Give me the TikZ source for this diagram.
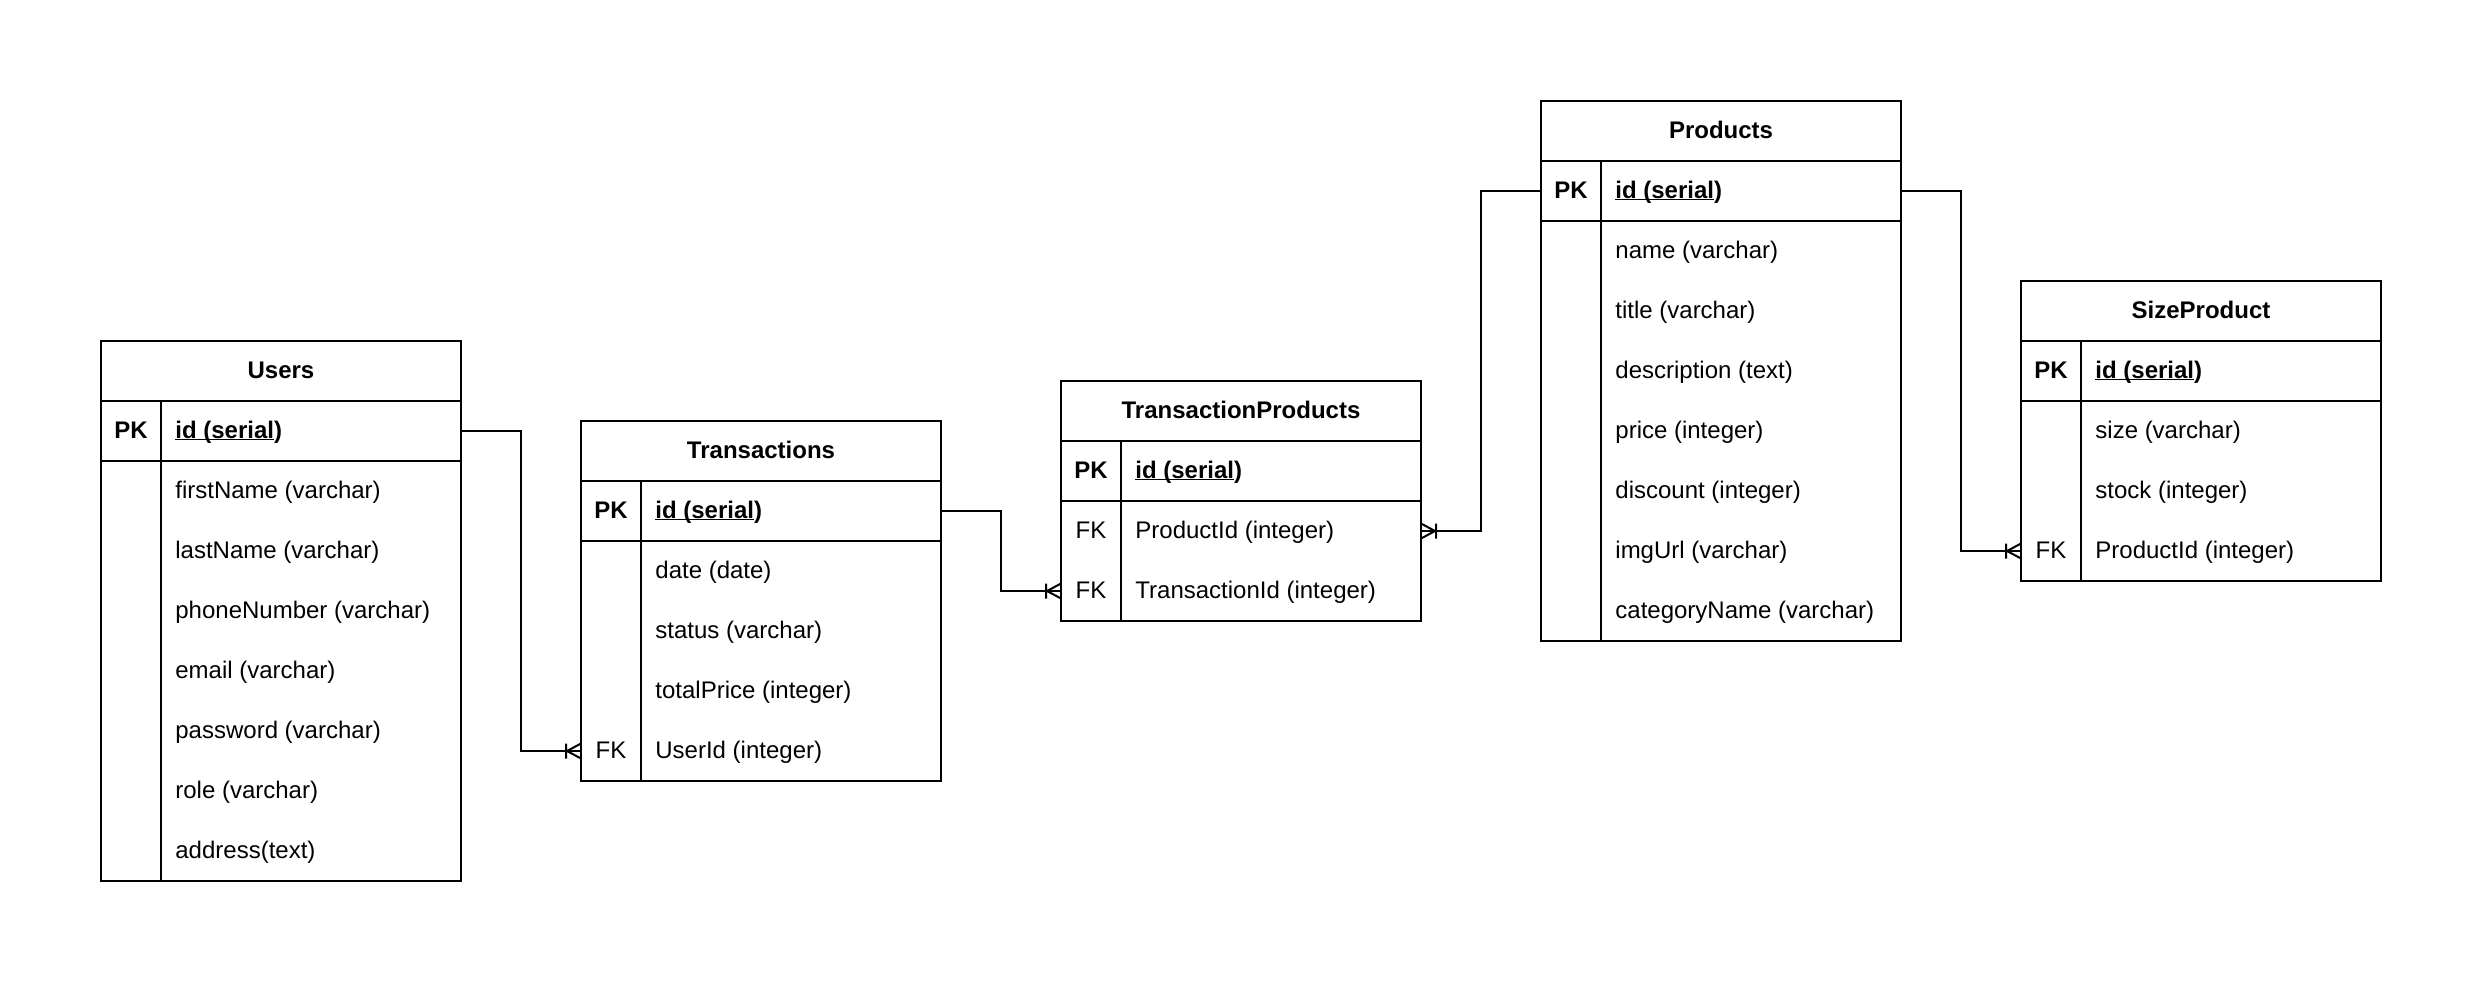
\documentclass[tikz,border=0pt]{standalone}
\usepackage{fontspec}
\setmainfont{Liberation Sans}
\usetikzlibrary{calc}
\newcommand\myul[1]{\setbox0\hbox{#1}\rlap{\rule[-1.1pt]{\wd0}{0.8pt}}\box0}
\newcommand\basefont{\fontsize{12pt}{14pt}\selectfont}
\tikzset{
  box/.style={draw, line width=1pt, rectangle, inner sep=0pt, outer sep=0pt},
  ttl/.style={font={\basefont\bfseries}, inner sep=0pt},
  fld/.style={font=\basefont, inner sep=0pt},
  rel/.style={draw, line width=1pt},
}
\newcommand\ertable[5]{%
  \node[box, anchor=north west, minimum width=180pt, minimum height=30pt] (#1) at (#2,#3) {};
  \node[ttl, anchor=base] (#1-title) at ([yshift=-3.6pt]#1.center) {#4};
  \node[box, anchor=north west, minimum width=180pt, minimum height=30pt] (#1-pk) at (#1.south west) {};
  \node[box, anchor=north west, minimum width=180pt, minimum height={#5*30pt}] (#1-b) at (#1-pk.south west) {};
  \draw[line width=1pt] ([xshift=30pt]#1-pk.north west) -- ([xshift=30pt]#1-b.south west);
  \node[ttl, anchor=base] (#1-pkkey) at ([xshift=15pt,yshift=-3.6pt]#1-pk.west) {PK};
  \node[ttl, anchor=base west] (#1-pkname) at ([xshift=37pt,yshift=-3.6pt]#1-pk.west) {\myul{id (serial})};
}
\newcommand\field[3]{%
  \coordinate (#1-r#2w) at ([yshift={-(#2-0.5)*30pt}]#1-b.north west);
  \coordinate (#1-r#2e) at ([yshift={-(#2-0.5)*30pt}]#1-b.north east);
  \node[fld, anchor=base west] (#1-f#2) at ([xshift=37pt,yshift=-3.6pt]#1-r#2w) {#3};
}
\newcommand\fkfield[3]{%
  \field{#1}{#2}{#3}
  \node[fld, anchor=base] (#1-k#2) at ([xshift=15pt,yshift=-3.6pt]#1-r#2w) {FK};
}
\newcommand\crowL[1]{%
  \draw[rel] ([xshift=-7pt]#1) -- ([yshift=3.75pt]#1)
             ([xshift=-7pt]#1) -- ([yshift=-3.75pt]#1)
             ([xshift=-7.5pt,yshift=3.75pt]#1) -- ([xshift=-7.5pt,yshift=-3.75pt]#1);}
\newcommand\crowR[1]{%
  \draw[rel] ([xshift=7pt]#1) -- ([yshift=3.75pt]#1)
             ([xshift=7pt]#1) -- ([yshift=-3.75pt]#1)
             ([xshift=7.5pt,yshift=3.75pt]#1) -- ([xshift=7.5pt,yshift=-3.75pt]#1);}
\begin{document}
\begin{tikzpicture}[x=0.5pt,y=-0.5pt,font=\basefont]
\useasboundingbox (0,0) rectangle (2482,982);

\ertable{U}{101}{341}{Users}{7}
\field{U}{1}{firstName (varchar)}
\field{U}{2}{lastName (varchar)}
\field{U}{3}{phoneNumber (varchar)}
\field{U}{4}{email (varchar)}
\field{U}{5}{password (varchar)}
\field{U}{6}{role (varchar)}
\field{U}{7}{address(text)}

\ertable{T}{581}{421}{Transactions}{4}
\field{T}{1}{date (date)}
\field{T}{2}{status (varchar)}
\field{T}{3}{totalPrice (integer)}
\fkfield{T}{4}{UserId (integer)}

\ertable{TP}{1061}{381}{TransactionProducts}{2}
\fkfield{TP}{1}{ProductId (integer)}
\fkfield{TP}{2}{TransactionId (integer)}

\ertable{P}{1541}{101}{Products}{7}
\field{P}{1}{name (varchar)}
\field{P}{2}{title (varchar)}
\field{P}{3}{description (text)}
\field{P}{4}{price (integer)}
\field{P}{5}{discount (integer)}
\field{P}{6}{imgUrl (varchar)}
\field{P}{7}{categoryName (varchar)}

\ertable{SP}{2021}{281}{SizeProduct}{3}
\field{SP}{1}{size (varchar)}
\field{SP}{2}{stock (integer)}
\fkfield{SP}{3}{ProductId (integer)}

\draw[rel] (U-pk.east) -- ++(60,0) |- (T-r4w);
\crowL{T-r4w}
\draw[rel] (T-pk.east) -- ++(60,0) |- (TP-r2w);
\crowL{TP-r2w}
\draw[rel] (P-pk.west) -- ++(-60,0) |- (TP-r1e);
\crowR{TP-r1e}
\draw[rel] (P-pk.east) -- ++(60,0) |- (SP-r3w);
\crowL{SP-r3w}
\end{tikzpicture}
\end{document}
